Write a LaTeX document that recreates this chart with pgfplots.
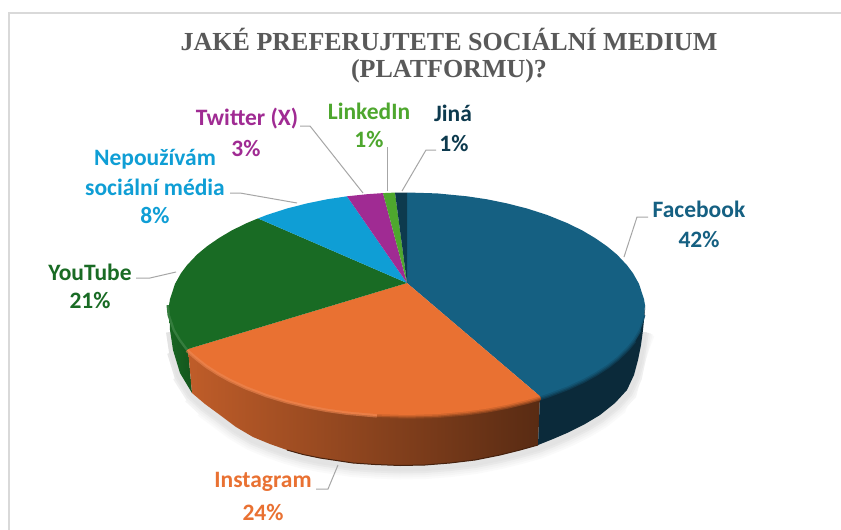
\documentclass[border=0pt]{standalone}
\usepackage{pgfplots}
\usepackage{pgfplotstable}
\usepackage{fontspec}
\pgfplotsset{compat=1.18}
\setmainfont{Carlito}
\newfontfamily\titlefont{Liberation Serif}

\definecolor{cFacebook}{HTML}{156082}
\definecolor{cFacebookSide}{HTML}{0B2A3A}
\definecolor{cInstagram}{HTML}{E97132}
\definecolor{cYouTube}{HTML}{196B24}
\definecolor{cNone}{HTML}{0F9ED5}
\definecolor{cTwitter}{HTML}{A02B93}
\definecolor{cLinkedIn}{HTML}{4EA72E}
\definecolor{cOther}{HTML}{0D3A4E}
\definecolor{cTitle}{HTML}{595959}
\definecolor{cLeader}{HTML}{A6A6A6}
\definecolor{cFrame}{HTML}{D9D9D9}

% lower outline of the disc, used for its soft ground shadow
\pgfplotstableread{
x y
170 332
173 352
180 375
192 394
205 406
220 417
236 429
253 439
270 446
287 452
303 456.5
320 460
353 465
375 466.5
400 467.5
425 467
450 465
475 462
500 457
520 452
538 447
553 441
567 435
585 426
600 417
615 405
627 392
634 377
638 362
641 347
643 332
}\shadowline

% front rim of the blue slice, running in from the right end
\pgfplotstableread{
x y
644 315
639 329.5
633 339.5
627 346.9
617 356.8
607 364.7
595 372.4
583 379
567 386.4
547 394
540 396.2
}\rimblue

% front rim of the orange slice, split by light falloff
\pgfplotstableread{
x y
188 349
197 356.8
207 364.7
219 372.4
231 379
247 386.4
267 394
287 400
307 404.8
327 408.6
347 411.4
377 414.1
}\rimorangeA
\pgfplotstableread{
x y
377 414.1
407 415
437 414.1
467 411.4
487 408.6
507 404.8
527 400
540 396.2
}\rimorangeB

% rim of the green slice on the lower left
\pgfplotstableread{
x y
188 349
181 339.5
175 329.5
170 315
169 305
}\rimgreen

\begin{document}
\begin{tikzpicture}
\begin{axis}[
  hide axis,
  scale only axis,
  width=841pt, height=530pt,
  xmin=0, xmax=841, ymin=0, ymax=530,
  y dir=reverse,
  every axis plot/.append style={forget plot},
]
% page background and chart frame
\addplot[fill=white, draw=none] coordinates {(0,0)(841,0)(841,530)(0,530)} --cycle;
\addplot[draw=cFrame, line width=1.6pt] coordinates {(9,530)(9,13)(841,13)};

% ground shadow, the wider bands stopping short of the ends so that it fades out
\addplot[draw=black!2,  line width=24pt, skip coords between index={0}{4}, skip coords between index={26}{30}] table[x=x,y=y]{\shadowline};
\addplot[draw=black!4,  line width=20pt, skip coords between index={0}{3}, skip coords between index={27}{30}] table[x=x,y=y]{\shadowline};
\addplot[draw=black!6,  line width=16pt, skip coords between index={0}{2}, skip coords between index={28}{30}] table[x=x,y=y]{\shadowline};
\addplot[draw=black!9,  line width=12pt, skip coords between index={0}{1}, skip coords between index={29}{30}] table[x=x,y=y]{\shadowline};
\addplot[draw=black!11, line width=8pt]  table[x=x,y=y]{\shadowline};

% side wall of the disc
\addplot[shade, left color=cYouTube!95!black, right color=cYouTube!80!black, draw=none] coordinates {
 (169,305)(170,330)(173,350)(180,373)(192,393)(188,349)(181,339.5)(175,329.5)(170,315)} --cycle;
\addplot[shade, left color=cInstagram!82!black, middle color=cInstagram!58!black, right color=cInstagram!38!black, draw=none] coordinates {
 (188,349)(197,356.8)(207,364.7)(219,372.4)(231,379)(247,386.4)(267,394)(287,400)(307,404.8)(327,408.6)(347,411.4)(377,414.1)(407,415)(437,414.1)(467,411.4)(487,408.6)(507,404.8)(527,400)(540,396.2)
 (538,445)(520,450)(500,455)(475,460)(450,463)(425,465)(400,465.5)(375,464.5)(353,463)(320,458)(303,454.5)(287,450)(270,444)(253,437)(236,427)(220,415)(205,404)(192,393)} --cycle;
\addplot[fill=cFacebookSide, draw=none] coordinates {
 (645,305)(644,315)(639,329.5)(633,339.5)(627,346.9)(617,356.8)(607,364.7)(595,372.4)(583,379)(567,386.4)(547,394)(540,396.2)
 (538,445)(553,439)(567,433)(585,424)(600,415)(615,403)(627,390)(634,375)(638,360)(641,345)(643,330)(645,310)} --cycle;

% dark lower lip of the orange wall
\addplot[draw=cInstagram!30!black, line width=1pt] coordinates {(287,450)(303,454.5)(320,458)(353,463)(375,464.5)(400,465.5)(425,465)(450,463)(475,460)(500,455)(520,450)(538,445)};

% soft bevel between the wall and the top face, tapering towards the right end
\addplot[draw=cFacebook!30!cFacebookSide, line width=8pt, skip coords between index={0}{2}] table[x=x,y=y]{\rimblue};
\addplot[draw=cFacebook!55!cFacebookSide, line width=5.5pt, skip coords between index={0}{1}] table[x=x,y=y]{\rimblue};
\addplot[draw=cFacebook!80!cFacebookSide, line width=3pt] table[x=x,y=y]{\rimblue};
\addplot[draw=cInstagram!60!black, line width=8pt] table[x=x,y=y]{\rimorangeB};
\addplot[draw=cInstagram!75!black, line width=5.5pt] table[x=x,y=y]{\rimorangeB};
\addplot[draw=cInstagram!90!black, line width=3pt] table[x=x,y=y]{\rimorangeB};
\addplot[draw=cInstagram!85!white, line width=7pt, opacity=.6] table[x=x,y=y]{\rimorangeA};
\addplot[draw=cInstagram!90!white, line width=4pt] table[x=x,y=y]{\rimorangeA};
\addplot[draw=cYouTube!88!white, line width=5pt] table[x=x,y=y]{\rimgreen};

% top face, one wedge per slice
\addplot[fill=cFacebook, draw=none] coordinates {
 (407,283)(407,192.5)(437,193.4)(467,196.3)(487,199.3)(507,203.4)(527,208.5)(547,214.9)(567,223)(582,230.3)(595,238)(607,246.3)(617,254.6)(627,265.2)(633,273.2)(639,283.9)(644,299.2)(645,305)(644,315)(639,329.5)(633,339.5)(627,346.9)(617,356.8)(607,364.7)(595,372.4)(583,379)(567,386.4)(547,394)(540,396.2)} --cycle;
\addplot[fill=cInstagram, draw=none] coordinates {
 (407,283)(540,396.2)(527,400)(507,404.8)(487,408.6)(467,411.4)(437,414.1)(407,415)(377,414.1)(347,411.4)(327,408.6)(307,404.8)(287,400)(267,394)(247,386.4)(231,379)(219,372.4)(207,364.7)(197,356.8)(188,349)} --cycle;
\addplot[fill=cYouTube, draw=none] coordinates {
 (407,283)(188,349)(181,339.5)(175,329.5)(170,315)(169,305)(170,299.2)(175,283.9)(181,273.2)(187,265.2)(197,254.6)(207,246.3)(219,238)(232,230.3)(247,223)(258,218.4)} --cycle;
\addplot[fill=cNone, draw=none] coordinates {
 (407,283)(258,218.4)(267,214.9)(287,208.5)(307,203.4)(327,199.3)(347,196.3)} --cycle;
\addplot[fill=cTwitter, draw=none] coordinates {
 (407,283)(347,196.3)(367,194.2)(383,193.1)} --cycle;
\addplot[fill=cLinkedIn, draw=none] coordinates {
 (407,283)(383,193.1)(395,192.6)} --cycle;
\addplot[fill=cOther, draw=none] coordinates {
 (407,283)(395,192.6)(407,192.5)} --cycle;

% leader lines from slices to their labels
\addplot[draw=cLeader, line width=1pt] coordinates {(648,217)(637,217)(624,257)};
\addplot[draw=cLeader, line width=1pt] coordinates {(436,150)(426,150)(402,191)};
\addplot[draw=cLeader, line width=1pt] coordinates {(387.5,147)(387.5,191)};
\addplot[draw=cLeader, line width=1pt] coordinates {(300,126)(310,126)(363,193)};
\addplot[draw=cLeader, line width=1pt] coordinates {(230,193)(240,193)(297,203)};
\addplot[draw=cLeader, line width=1pt] coordinates {(136,278)(150,278)(176,272)};
\addplot[draw=cLeader, line width=1pt] coordinates {(316,489)(328,489)(338,465)};

% title
\node[text=cTitle, font=\titlefont\fontsize{26}{30}\selectfont\bfseries] at (axis cs:449,39) {JAKÉ PREFERUJTETE SOCIÁLNÍ MEDIUM};
\node[text=cTitle, font=\titlefont\fontsize{26}{30}\selectfont\bfseries] at (axis cs:449,71) {(PLATFORMU)?};

% data labels
\tikzset{lab/.style={font=\fontsize{23.5}{26}\selectfont\bfseries}}
\node[lab,text=cFacebook] at (axis cs:699,209) {Facebook};
\node[lab,text=cFacebook] at (axis cs:699,239) {42\%};
\node[lab,text=cInstagram] at (axis cs:263,482) {Instagram};
\node[lab,text=cInstagram] at (axis cs:263,512) {24\%};
\node[lab,text=cYouTube] at (axis cs:90,272) {YouTube};
\node[lab,text=cYouTube] at (axis cs:90,300) {21\%};
\node[lab,text=cNone] at (axis cs:155,159) {Nepoužívám};
\node[lab,text=cNone] at (axis cs:155,187) {sociální média};
\node[lab,text=cNone] at (axis cs:155,215) {8\%};
\node[lab,text=cTwitter] at (axis cs:247,119) {Twitter (X)};
\node[lab,text=cTwitter] at (axis cs:246,148) {3\%};
\node[lab,text=cLinkedIn] at (axis cs:369,111) {LinkedIn};
\node[lab,text=cLinkedIn] at (axis cs:369,139) {1\%};
\node[lab,text=cOther] at (axis cs:453,113) {Jiná};
\node[lab,text=cOther] at (axis cs:454,143) {1\%};
\end{axis}
\end{tikzpicture}
\end{document}
